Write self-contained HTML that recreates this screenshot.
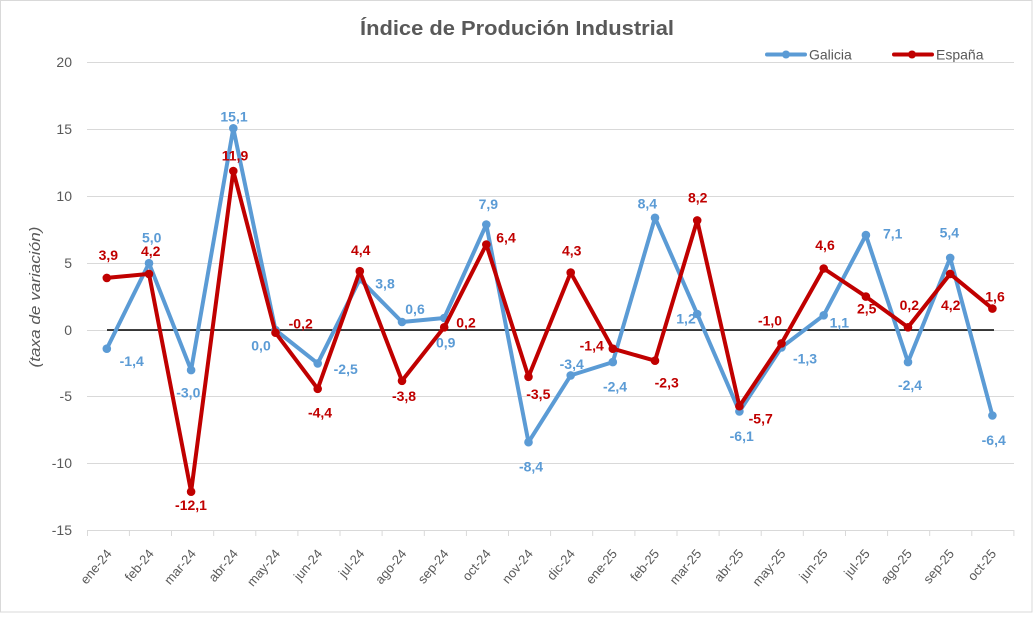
<!DOCTYPE html>
<html>
<head>
<meta charset="utf-8">
<style>
  html,body{margin:0;padding:0;background:#fff;}
  svg{display:block;font-family:"Liberation Sans",sans-serif;}
</style>
</head>
<body>
<svg width="1036" height="620" viewBox="0 0 1036 620" xmlns="http://www.w3.org/2000/svg">
  <rect x="0" y="0" width="1036" height="620" fill="#fff"/>
  <rect x="0.5" y="0.5" width="1031.5" height="611.5" fill="#fff" stroke="#d9d9d9" stroke-width="1"/>

  <!-- title -->
  <text x="517" y="35" text-anchor="middle" font-size="20" font-weight="bold" fill="#595959" textLength="314" lengthAdjust="spacingAndGlyphs">Índice de Produción Industrial</text>

  <!-- legend -->
  <line x1="767" y1="54.5" x2="805" y2="54.5" stroke="#5B9BD5" stroke-width="4" stroke-linecap="round"/>
  <circle cx="786" cy="54.5" r="4" fill="#5B9BD5"/>
  <text x="809" y="59.5" font-size="14" fill="#595959">Galicia</text>
  <line x1="894" y1="54.5" x2="932" y2="54.5" stroke="#C00000" stroke-width="4" stroke-linecap="round"/>
  <circle cx="912" cy="54.5" r="4" fill="#C00000"/>
  <text x="936" y="59.5" font-size="14" fill="#595959">España</text>

  <!-- gridlines -->
  <g stroke="#d9d9d9" stroke-width="1">
    <line x1="87" y1="62.5" x2="1014" y2="62.5"/>
    <line x1="87" y1="129.5" x2="1014" y2="129.5"/>
    <line x1="87" y1="196.5" x2="1014" y2="196.5"/>
    <line x1="87" y1="263.5" x2="1014" y2="263.5"/>
    <line x1="87" y1="330.5" x2="1014" y2="330.5"/>
    <line x1="87" y1="396.5" x2="1014" y2="396.5"/>
    <line x1="87" y1="463.5" x2="1014" y2="463.5"/>
    <line x1="87" y1="530.5" x2="1014" y2="530.5"/>
  </g>
  <!-- x ticks -->
  <g stroke="#d9d9d9" stroke-width="1">
    <line x1="87.5" y1="530" x2="87.5" y2="536"/><line x1="129.4" y1="530" x2="129.4" y2="536"/><line x1="171.5" y1="530" x2="171.5" y2="536"/><line x1="213.7" y1="530" x2="213.7" y2="536"/><line x1="255.8" y1="530" x2="255.8" y2="536"/><line x1="297.9" y1="530" x2="297.9" y2="536"/><line x1="340.0" y1="530" x2="340.0" y2="536"/><line x1="382.1" y1="530" x2="382.1" y2="536"/><line x1="424.3" y1="530" x2="424.3" y2="536"/><line x1="466.4" y1="530" x2="466.4" y2="536"/><line x1="508.5" y1="530" x2="508.5" y2="536"/><line x1="550.6" y1="530" x2="550.6" y2="536"/><line x1="592.7" y1="530" x2="592.7" y2="536"/><line x1="634.9" y1="530" x2="634.9" y2="536"/><line x1="677.0" y1="530" x2="677.0" y2="536"/><line x1="719.1" y1="530" x2="719.1" y2="536"/><line x1="761.2" y1="530" x2="761.2" y2="536"/><line x1="803.3" y1="530" x2="803.3" y2="536"/><line x1="845.5" y1="530" x2="845.5" y2="536"/><line x1="887.6" y1="530" x2="887.6" y2="536"/><line x1="929.7" y1="530" x2="929.7" y2="536"/><line x1="971.8" y1="530" x2="971.8" y2="536"/><line x1="1013.9" y1="530" x2="1013.9" y2="536"/>
  </g>

  <!-- y axis labels -->
  <g font-size="14" fill="#595959" text-anchor="end">
    <text x="72" y="67">20</text>
    <text x="72" y="134">15</text>
    <text x="72" y="201">10</text>
    <text x="72" y="268">5</text>
    <text x="72" y="335">0</text>
    <text x="72" y="401">-5</text>
    <text x="72" y="468">-10</text>
    <text x="72" y="535">-15</text>
  </g>
  <text transform="translate(40,297) rotate(-90)" text-anchor="middle" font-size="15" font-style="italic" fill="#595959" textLength="141" lengthAdjust="spacingAndGlyphs">(taxa de variación)</text>

  <!-- x axis labels -->
  <g font-size="13" fill="#595959" text-anchor="end">
    <text transform="translate(112.4,554) rotate(-50)">ene-24</text>
    <text transform="translate(154.5,554) rotate(-50)">feb-24</text>
    <text transform="translate(196.6,554) rotate(-50)">mar-24</text>
    <text transform="translate(238.7,554) rotate(-50)">abr-24</text>
    <text transform="translate(280.9,554) rotate(-50)">may-24</text>
    <text transform="translate(323.0,554) rotate(-50)">jun-24</text>
    <text transform="translate(365.1,554) rotate(-50)">jul-24</text>
    <text transform="translate(407.2,554) rotate(-50)">ago-24</text>
    <text transform="translate(449.3,554) rotate(-50)">sep-24</text>
    <text transform="translate(491.5,554) rotate(-50)">oct-24</text>
    <text transform="translate(533.6,554) rotate(-50)">nov-24</text>
    <text transform="translate(575.7,554) rotate(-50)">dic-24</text>
    <text transform="translate(617.8,554) rotate(-50)">ene-25</text>
    <text transform="translate(659.9,554) rotate(-50)">feb-25</text>
    <text transform="translate(702.1,554) rotate(-50)">mar-25</text>
    <text transform="translate(744.2,554) rotate(-50)">abr-25</text>
    <text transform="translate(786.3,554) rotate(-50)">may-25</text>
    <text transform="translate(828.4,554) rotate(-50)">jun-25</text>
    <text transform="translate(870.5,554) rotate(-50)">jul-25</text>
    <text transform="translate(912.7,554) rotate(-50)">ago-25</text>
    <text transform="translate(954.8,554) rotate(-50)">sep-25</text>
    <text transform="translate(996.9,554) rotate(-50)">oct-25</text>
  </g>

  <!-- zero line -->
  <line x1="107" y1="330" x2="994" y2="330" stroke="#000" stroke-width="1.6"/>

  <!-- Galicia -->
  <polyline fill="none" stroke="#5B9BD5" stroke-width="4" stroke-linejoin="round" stroke-linecap="round"
    points="106.8,348.7 149.0,263.2 191.1,370.1 233.3,128.3 275.5,330 317.7,363.4 359.8,279.2 402.0,322.0 444.2,318.0 486.3,224.5 528.5,442.2 570.7,375.4 612.8,362.1 655.0,217.8 697.2,314.0 739.4,411.5 781.5,347.4 823.7,315.3 865.9,235.1 908.0,362.1 950.2,257.9 992.4,415.5"/>
  <g fill="#5B9BD5">
    <circle cx="106.8" cy="348.7" r="4.3"/><circle cx="149.0" cy="263.2" r="4.3"/><circle cx="191.1" cy="370.1" r="4.3"/><circle cx="233.3" cy="128.3" r="4.3"/><circle cx="275.5" cy="330" r="4.3"/><circle cx="317.7" cy="363.4" r="4.3"/><circle cx="359.8" cy="279.2" r="4.3"/><circle cx="402.0" cy="322.0" r="4.3"/><circle cx="444.2" cy="318.0" r="4.3"/><circle cx="486.3" cy="224.5" r="4.3"/><circle cx="528.5" cy="442.2" r="4.3"/><circle cx="570.7" cy="375.4" r="4.3"/><circle cx="612.8" cy="362.1" r="4.3"/><circle cx="655.0" cy="217.8" r="4.3"/><circle cx="697.2" cy="314.0" r="4.3"/><circle cx="739.4" cy="411.5" r="4.3"/><circle cx="781.5" cy="347.4" r="4.3"/><circle cx="823.7" cy="315.3" r="4.3"/><circle cx="865.9" cy="235.1" r="4.3"/><circle cx="908.0" cy="362.1" r="4.3"/><circle cx="950.2" cy="257.9" r="4.3"/><circle cx="992.4" cy="415.5" r="4.3"/>
  </g>

  <!-- España -->
  <polyline fill="none" stroke="#C00000" stroke-width="4" stroke-linejoin="round" stroke-linecap="round"
    points="106.8,277.9 149.0,273.9 191.1,491.7 233.3,171.0 275.5,332.7 317.7,388.8 359.8,271.2 402.0,380.8 444.2,327.3 486.3,244.5 528.5,376.8 570.7,272.6 612.8,348.7 655.0,360.7 697.2,220.4 739.4,406.2 781.5,343.4 823.7,268.5 865.9,296.6 908.0,327.3 950.2,273.9 992.4,308.6"/>
  <g fill="#C00000">
    <circle cx="106.8" cy="277.9" r="4.3"/><circle cx="149.0" cy="273.9" r="4.3"/><circle cx="191.1" cy="491.7" r="4.3"/><circle cx="233.3" cy="171.0" r="4.3"/><circle cx="275.5" cy="332.7" r="4.3"/><circle cx="317.7" cy="388.8" r="4.3"/><circle cx="359.8" cy="271.2" r="4.3"/><circle cx="402.0" cy="380.8" r="4.3"/><circle cx="444.2" cy="327.3" r="4.3"/><circle cx="486.3" cy="244.5" r="4.3"/><circle cx="528.5" cy="376.8" r="4.3"/><circle cx="570.7" cy="272.6" r="4.3"/><circle cx="612.8" cy="348.7" r="4.3"/><circle cx="655.0" cy="360.7" r="4.3"/><circle cx="697.2" cy="220.4" r="4.3"/><circle cx="739.4" cy="406.2" r="4.3"/><circle cx="781.5" cy="343.4" r="4.3"/><circle cx="823.7" cy="268.5" r="4.3"/><circle cx="865.9" cy="296.6" r="4.3"/><circle cx="908.0" cy="327.3" r="4.3"/><circle cx="950.2" cy="273.9" r="4.3"/><circle cx="992.4" cy="308.6" r="4.3"/>
  </g>

  <!-- Galicia labels -->
  <g font-size="14" font-weight="bold" fill="#5B9BD5" text-anchor="middle">
    <text x="131.7" y="366">-1,4</text>
    <text x="151.7" y="242.3">5,0</text>
    <text x="188.3" y="397.3">-3,0</text>
    <text x="234" y="121.7">15,1</text>
    <text x="261" y="350.7">0,0</text>
    <text x="345.7" y="374">-2,5</text>
    <text x="385" y="288.3">3,8</text>
    <text x="415" y="314">0,6</text>
    <text x="445.7" y="347.3">0,9</text>
    <text x="488.3" y="209">7,9</text>
    <text x="531" y="471.7">-8,4</text>
    <text x="571.7" y="369">-3,4</text>
    <text x="615" y="391.7">-2,4</text>
    <text x="647.3" y="208.3">8,4</text>
    <text x="686" y="323.3">1,2</text>
    <text x="741.7" y="441">-6,1</text>
    <text x="805" y="363.3">-1,3</text>
    <text x="839.3" y="327.7">1,1</text>
    <text x="892.7" y="238.3">7,1</text>
    <text x="910" y="390">-2,4</text>
    <text x="949.3" y="237.7">5,4</text>
    <text x="993.7" y="445">-6,4</text>
  </g>

  <!-- España labels -->
  <g font-size="14" font-weight="bold" fill="#C00000" text-anchor="middle">
    <text x="108.3" y="260">3,9</text>
    <text x="150.7" y="256">4,2</text>
    <text x="191" y="510">-12,1</text>
    <text x="235" y="160.7">11,9</text>
    <text x="300.7" y="328.3">-0,2</text>
    <text x="320" y="417.7">-4,4</text>
    <text x="360.7" y="255">4,4</text>
    <text x="404" y="401">-3,8</text>
    <text x="466" y="327.7">0,2</text>
    <text x="506" y="242.3">6,4</text>
    <text x="538.3" y="399">-3,5</text>
    <text x="571.7" y="255.7">4,3</text>
    <text x="591.7" y="350.7">-1,4</text>
    <text x="666.7" y="387.7">-2,3</text>
    <text x="697.7" y="202.3">8,2</text>
    <text x="760.7" y="423.3">-5,7</text>
    <text x="770" y="325.7">-1,0</text>
    <text x="825" y="250">4,6</text>
    <text x="866.7" y="313.3">2,5</text>
    <text x="909.3" y="310">0,2</text>
    <text x="950.7" y="310">4,2</text>
    <text x="995" y="301.7">1,6</text>
  </g>
</svg>
</body>
</html>
